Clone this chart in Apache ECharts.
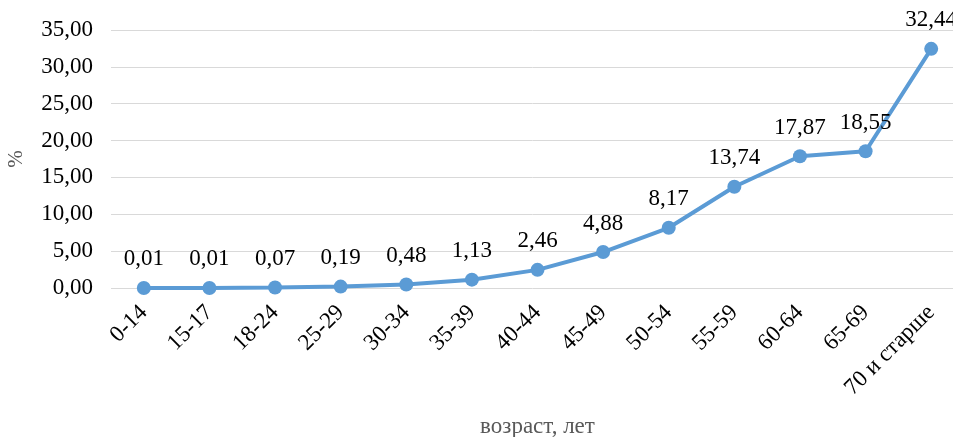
<!DOCTYPE html>
<html>
<head>
<meta charset="utf-8">
<script src="https://cdn.jsdelivr.net/npm/echarts@6/dist/echarts.min.js"></script>
<style>
  html, body { margin: 0; padding: 0; background: #fff; overflow: hidden; }
  #chart { width: 953px; height: 437px; }
</style>
</head>
<body>
<div id="chart"></div>
<script>
// возрастные группы
const ageGroups = ['0-14', '15-17', '18-24', '25-29', '30-34', '35-39', '40-44', '45-49', '50-54', '55-59', '60-64', '65-69', '70 и старше'];
// доля, %
const shareValues = [0.01, 0.01, 0.07, 0.19, 0.48, 1.13, 2.46, 4.88, 8.17, 13.74, 17.87, 18.55, 32.44];

const serif = '"Liberation Serif", "DejaVu Serif", serif';
const fmt = v => v.toFixed(2).replace('.', ',');

const chart = echarts.init(document.getElementById('chart'));
chart.setOption({
  animation: false,
  grid: { left: 111, right: -11, top: 30, bottom: 149, outerBoundsMode: 'none' },
  xAxis: {
    type: 'category',
    data: ageGroups,
    name: 'возраст, лет',
    nameLocation: 'middle',
    nameGap: 127,
    nameTextStyle: { fontFamily: serif, fontSize: 23, color: '#595959' },
    axisLine: { show: false },
    axisTick: { show: false },
    axisLabel: {
      rotate: 45,
      margin: 21,
      interval: 0,
      fontFamily: serif,
      fontSize: 23,
      color: '#000'
    }
  },
  yAxis: {
    type: 'value',
    min: 0,
    max: 35,
    interval: 5,
    name: '%',
    nameLocation: 'middle',
    nameRotate: 90,
    nameGap: 84,
    nameTextStyle: { fontFamily: serif, fontSize: 21, color: '#595959' },
    axisLine: { show: false },
    axisTick: { show: false },
    axisLabel: {
      fontFamily: serif,
      fontSize: 23,
      color: '#000',
      margin: 18,
      formatter: fmt
    },
    splitLine: { lineStyle: { color: '#d9d9d9', width: 1 } }
  },
  series: [{
    type: 'line',
    data: shareValues,
    symbol: 'circle',
    symbolSize: 14,
    lineStyle: { color: '#5b9bd5', width: 4 },
    itemStyle: { color: '#5b9bd5' },
    label: {
      show: true,
      position: 'top',
      distance: 10,
      fontFamily: serif,
      fontSize: 23,
      color: '#000',
      formatter: p => fmt(p.value)
    }
  }]
});
</script>
</body>
</html>
